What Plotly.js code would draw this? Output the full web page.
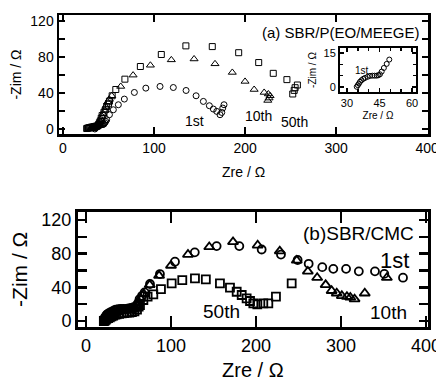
<!DOCTYPE html>
<html><head><meta charset="utf-8">
<script src="https://cdn.plot.ly/plotly-3.0.1.min.js"></script>
<style>html,body{margin:0;padding:0;background:#fff}#c{width:436px;height:383px}</style>
</head><body><div id="c"></div>
<script>
// ---- (a) SBR/P(EO/MEEGE) ----
const a1x = [35,36,36.5,37,38,39,40,41,42,43,44,45,46,47,48,51,55.3,60.8,67.4,78.4,91,106.6,121.2,135.2,146.2,154.2,160.8,165.2,168.9,172.5,174.4,175.5,176.9];
const a1y = [0,1,2,3,3.5,4,4.5,4.8,5,5,5,5.5,7,8.5,10.3,15.9,21.4,27,33.3,40.7,45.5,47.4,46.2,42.9,37,30.7,25.9,22.2,19.6,15.9,18.4,23.3,27];
const a10x = [30,31,32,33,34,35,36,37,38,39,40,41,42,43,44,46,47,49,51,53.5,63.4,77,96,119,144,167,186,200,210,221,225.6,227.5,226.4,225];
const a10y = [0,0.5,1,1,1.5,1.5,2,2.5,3,4,6,8,11,14,17,21,25,30,33,37,47.4,60,71,77,78,72.6,63,53,44,40.7,39,37,34.4,31.8];
const a50x = [26,27,28,29,30,31,32,33,34,35,36,37,38,39,40,41,42,43,45,47,48,50,51,54,58,68,85,108,135,164,193,215,231,246,252.4,254,255,257.5];
const a50y = [0.5,1,1,1.5,1.5,2,2,2,2.5,2.5,3,3,3.5,5,7,9,12,15,18.5,22,25,28,31,37,44,55.5,69.6,83,92.6,91.8,85,74,62,55,39,43,46,49];
// inset (1st cycle, high-frequency region)
const insx = [34.5,35,35.5,36,36.7,37.5,38.3,39.5,40.6,41.7,42.7,43.7,44.5,45.2,46,47,48.3,49.5];
const insy = [0.1,0.8,1.5,2.3,3,3.6,4,4.5,4.9,5,5,5,5.2,5.6,6.8,8.4,10.2,12.1];

// ---- (b) SBR/CMC ----
const b1x = [22,23,24,25,27,29,31,33,35,38,41,44,47,50,53,56,59,61,63,66,69,75.3,87,104.7,128,153.7,180.4,206.7,229.4,249,262,278,291,306,321,340,351,373];
const b1y = [3,5,7,8,9.5,10.5,11.5,12.5,13.5,14,14.5,14.5,14.5,15,15.5,16.5,18,21,26,30,34,44,55.8,70.5,81.6,89,89,85,79,72.5,68,64,62,62,59,59,56,51.5];
const b10x = [23,24,26,28,30,32,34,37,40,43,46,49,52,55,58,60,62,64,68,75,86,100,120,145,173,202,228,248,261,272,282,289,295,301,307,311,316,328,354];
const b10y = [2,4,6,7,8,9,10,11,12,12,12.5,13,13,14,15,18,22,27,32,43,54,66,79,88,94,90,83,72,59,51.5,43,36,33,30,29,28,26,33,51.5];
const b50x = [21,22,23,24,26,28,30,32,34,36,39,42,45,48,51,54,57,60,62,63.5,67.5,72.5,79.2,88.2,100.8,113.3,128.2,141,157.6,169.4,177.3,183.2,189,193,196.9,201.6,208.6,214.5,223.5,242];
const b50y = [0,0.5,1.5,2.5,3.5,4.5,5.5,6.5,7.5,8,8.5,9,9.5,10,10,10.5,11.5,13.5,17,19,25,29,31.7,38,44.8,48.7,50.7,49.5,44.8,39.6,34.8,30.9,27,23.8,21,19.8,21,21,28.9,44.8];

const xTicksA = [0,100,200,300,400];
const yTicksA = [0,20,40,60,80,100,120];
const yTextA = ['0','','40','','80','','120'];

const W = 436, H = 383;
const px = v => v / W, py = v => 1 - v / H;
const FONT = 'Liberation Sans, Arial, Helvetica, sans-serif';

function mk(x, y, sym, size, xa, ya, lw) {
  return {x: x, y: y, type: 'scatter', mode: 'markers', xaxis: xa, yaxis: ya, showlegend: false,
    marker: {symbol: sym, size: size, color: 'black', line: {color: 'black', width: lw}}, cliponaxis: false};
}

const traces = [
  mk(a1x, a1y, 'circle-open', 6, 'x', 'y', 1),
  mk(a10x, a10y, 'triangle-up-open', 7, 'x', 'y', 1),
  mk(a50x, a50y, 'square-open', 6, 'x', 'y', 1),
  mk(insx, insy, 'circle-open', 5, 'x3', 'y3', 1),
  mk(b1x, b1y, 'circle-open', 8, 'x2', 'y2', 1.8),
  mk(b10x, b10y, 'triangle-up-open', 9, 'x2', 'y2', 1.8),
  mk(b50x, b50y, 'square-open', 8, 'x2', 'y2', 1.8)
];

function ax(o) {
  return Object.assign({showline: true, mirror: 'ticks', linecolor: 'black', ticks: 'inside',
    tickcolor: 'black', showgrid: false, zeroline: false, automargin: false, ticklabeloverflow: 'allow'}, o);
}

const layout = {
  width: W, height: H, margin: {l: 0, r: 0, t: 0, b: 0},
  paper_bgcolor: 'white', plot_bgcolor: 'white',
  font: {family: FONT, color: 'black'},
  xaxis: ax({domain: [px(59), px(428)], range: [-4.4, 401], anchor: 'y',
    tickmode: 'array', tickvals: xTicksA, linewidth: 2.5, tickwidth: 2, ticklen: 7,
    tickfont: {size: 14}}),
  yaxis: ax({domain: [py(134), py(15)], range: [-5.6, 127], anchor: 'x',
    tickmode: 'array', tickvals: yTicksA, ticktext: yTextA, linewidth: 2.5, tickwidth: 2, ticklen: 6,
    tickfont: {size: 14}, title: {text: '-Zim / Ω', font: {size: 14}, standoff: 6}}),
  xaxis2: ax({domain: [px(78), px(428)], range: [-9.4, 402.4], anchor: 'y2',
    tickmode: 'array', tickvals: [0,100,200,300,400], linewidth: 3, tickwidth: 2.5, ticklen: 11,
    tickfont: {size: 18}}),
  yaxis2: ax({domain: [py(327), py(211.7)], range: [-7.1, 129.9], anchor: 'x2',
    tickmode: 'array', tickvals: [0,20,40,60,80,100,120], ticktext: ['0','','40','','80','','120'],
    linewidth: 3, tickwidth: 2.5, ticklen: 9,
    tickfont: {size: 18}, title: {text: '-Zim / Ω', font: {size: 21}, standoff: 8}}),
  xaxis3: ax({domain: [px(340), px(416)], range: [26.8, 61.8], anchor: 'y3',
    tickmode: 'array', tickvals: [30,45,60], linewidth: 2, tickwidth: 1.5, ticklen: 4,
    minor: {tickvals: [35,40,50,55], ticks: 'inside', ticklen: 3, tickwidth: 1.5, tickcolor: 'black'},
    tickfont: {size: 11}, title: {text: 'Zre / Ω', font: {size: 10}, standoff: 4}}),
  yaxis3: ax({domain: [py(92), py(48)], range: [-2.2, 17.2], anchor: 'x3',
    tickmode: 'array', tickvals: [0,15], linewidth: 2, tickwidth: 1.5, ticklen: 4,
    minor: {tickvals: [5,10], ticks: 'inside', ticklen: 3, tickwidth: 1.5, tickcolor: 'black'},
    tickfont: {size: 11}, title: {text: '-Zim / Ω', font: {size: 10}, standoff: 5}}),
  annotations: [
    {text: 'Zre / Ω', x: px(243), y: py(172), xanchor: 'center', yanchor: 'middle', font: {size: 14}},
    {text: 'Zre / Ω', x: px(253), y: py(383), xanchor: 'center', yanchor: 'bottom', font: {size: 20}},
    {text: '(a) SBR/P(EO/MEEGE)', x: px(422), y: py(33), xanchor: 'right', yanchor: 'middle', font: {size: 15}},
    {text: '1st', x: px(194), y: py(121), xanchor: 'center', yanchor: 'middle', font: {size: 14}},
    {text: '10th', x: px(258), y: py(116), xanchor: 'center', yanchor: 'middle', font: {size: 14}},
    {text: '50th', x: px(294), y: py(122), xanchor: 'center', yanchor: 'middle', font: {size: 14}},
    {text: '1st', x: px(362), y: py(70), xanchor: 'center', yanchor: 'middle', font: {size: 10}},
    {text: '(b)SBR/CMC', x: px(416), y: py(233), xanchor: 'right', yanchor: 'middle', font: {size: 19}},
    {text: '1st', x: px(411), y: py(260), xanchor: 'right', yanchor: 'middle', font: {size: 22}},
    {text: '50th', x: px(222), y: py(311.5), xanchor: 'center', yanchor: 'middle', font: {size: 19}},
    {text: '10th', x: px(388), y: py(312.5), xanchor: 'center', yanchor: 'middle', font: {size: 19}}
  ].map(a => Object.assign({xref: 'paper', yref: 'paper', showarrow: false}, a))
};

Plotly.newPlot('c', traces, layout, {staticPlot: true});
</script></body></html>
